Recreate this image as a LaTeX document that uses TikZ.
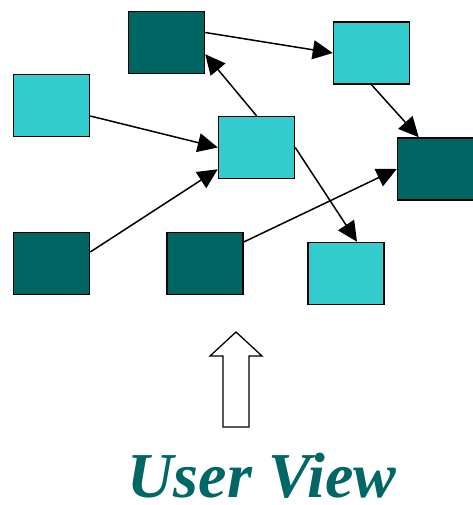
\documentclass[tikz,border=0pt]{standalone}
\usepackage{fontspec}
\setmainfont{Liberation Serif}
\usetikzlibrary{arrows.meta}
\definecolor{darkteal}{HTML}{006663}
\definecolor{lightteal}{HTML}{33CCCC}
\definecolor{textteal}{HTML}{006666}
\tikzset{
  box/.style={draw=black, line width=1.5pt, inner sep=0pt, minimum width=76pt, minimum height=62pt},
  darkbox/.style={box, fill=darkteal},
  lightbox/.style={box, fill=lightteal},
  conn/.style={line width=1.5pt, -{Triangle[length=20pt,width=19pt]}}
}
\begin{document}
\begin{tikzpicture}[x=1pt,y=-1pt]
\useasboundingbox (0,0) rectangle (472,505);
\node[darkbox]  (b1) at (166.5,42.5) {};
\node[lightbox] (b2) at (371.5,53) {};
\node[lightbox] (b3) at (51.5,105.5) {};
\node[lightbox] (b4) at (256.5,147.5) {};
\node[darkbox]  (b5) at (435.5,169) {};
\node[darkbox]  (b6) at (51.5,263.5) {};
\node[darkbox]  (b7) at (205,263.5) {};
\node[lightbox] (b8) at (346,273.5) {};

\draw[conn] ([yshift=10pt]b1.east) -- (b2.west);
\draw[conn] (b2.south) -- ([xshift=22pt]b5.north west);
\draw[conn] (b4.north) -- ([yshift=20pt]b1.south east);
\draw[conn] ([yshift=-10.5pt]b3.east) -- (b4.west);
\draw[conn] ([yshift=11.5pt]b6.east) -- ([yshift=10pt]b4.south west);
\draw[conn] ([yshift=21.5pt]b7.east) -- (b5.west);
\draw[conn] (b4.east) -- ([xshift=11pt]b8.north);

\draw[line width=1.3pt, fill=white, line join=miter]
  (223,427) -- (223,356) -- (210,356) -- (236,332) -- (262,356) -- (249,356) -- (249,427) -- cycle;

\node[anchor=base, inner sep=0pt, text depth=0pt, text=textteal, font=\fontsize{64}{64}\selectfont\bfseries\itshape] (label) at (262,497) {User View};
\end{tikzpicture}
\end{document}
